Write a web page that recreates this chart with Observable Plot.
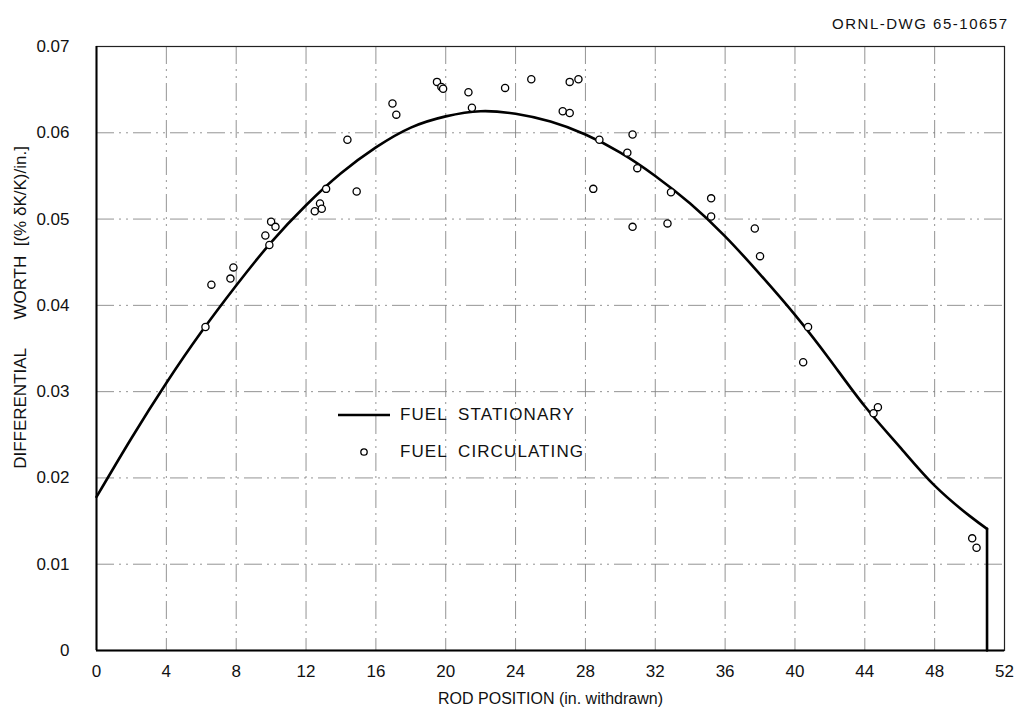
<!DOCTYPE html>
<html><head><meta charset="utf-8">
<script src="https://cdn.jsdelivr.net/npm/d3@7"></script>
<script src="https://cdn.jsdelivr.net/npm/@observablehq/plot@0.6"></script>
<style>
body{margin:0;background:#fff;}
#wrap{position:relative;width:1021px;height:717px;font-family:"Liberation Sans Narrow","Liberation Sans",sans-serif;}
#legend{position:absolute;left:336px;top:396px;font-size:17px;letter-spacing:1.1px;word-spacing:5px;color:#111;}
#legend .row{display:flex;align-items:center;height:37px;}
#legend svg{width:58px;height:20px;margin-right:6px;}
</style></head><body><div id="wrap"></div>
<script>
// Fuel stationary curve (rod position in., differential worth)
const curveX = [0, 2, 4, 6, 8, 10, 12, 14, 16, 18, 20, 22, 24, 26, 28, 30, 32, 34, 36, 38, 40, 42, 44, 46, 48, 50, 51];
const curveY = [0.0178, 0.0246, 0.0310, 0.0369, 0.0423, 0.0473, 0.0516, 0.0553, 0.0583, 0.0606, 0.0619, 0.0625, 0.0622, 0.0613, 0.0598, 0.0577, 0.0550, 0.0518, 0.0480, 0.0436, 0.0389, 0.0337, 0.0283, 0.0236, 0.0191, 0.0156, 0.0141];
// vertical drop at the end of the rod travel
const dropX = [51, 51];
const dropY = [0.0141, 0];
// Fuel circulating measurements
const circX = [6.24, 6.58, 7.67, 7.84, 9.67, 9.9, 10.0, 10.25, 12.5, 12.8, 12.9, 13.15, 14.37, 14.9, 16.95, 17.17, 19.5, 19.75, 19.85, 21.3, 21.5, 23.4, 24.9, 26.7, 27.1, 27.1, 27.6, 28.45, 28.8, 30.4, 30.7, 30.7, 30.97, 32.7, 32.9, 35.2, 35.2, 37.7, 38.0, 40.47, 40.75, 44.5, 44.75, 50.15, 50.4];
const circY = [0.0375, 0.0424, 0.0431, 0.0444, 0.0481, 0.0470, 0.0497, 0.0491, 0.0509, 0.0518, 0.0512, 0.0535, 0.0592, 0.0532, 0.0634, 0.0621, 0.0659, 0.0653, 0.0651, 0.0647, 0.0629, 0.0652, 0.0662, 0.0625, 0.0659, 0.0623, 0.0662, 0.0535, 0.0592, 0.0577, 0.0598, 0.0491, 0.0559, 0.0495, 0.0531, 0.0524, 0.0503, 0.0489, 0.0457, 0.0334, 0.0375, 0.0275, 0.0282, 0.0130, 0.0119];
const xTicks = [0, 4, 8, 12, 16, 20, 24, 28, 32, 36, 40, 44, 48, 52];
const yTicks = [0, 0.01, 0.02, 0.03, 0.04, 0.05, 0.06, 0.07];
const xLabel = "ROD POSITION (in. withdrawn)";
const yLabel = "DIFFERENTIAL\u00A0\u00A0\u00A0\u00A0\u00A0\u00A0WORTH\u00A0\u00A0[(% δK/K)/in.]";
const drawingNo = "ORNL-DWG 65-10657";
const seriesNames = ["FUEL STATIONARY", "FUEL CIRCULATING"];

const curve = curveX.map((x, i) => ({x, y: curveY[i]}));
const drop = dropX.map((x, i) => ({x, y: dropY[i]}));
const circ = circX.map((x, i) => ({x, y: circY[i]}));
const font = '"Liberation Sans Narrow","Liberation Sans",sans-serif';
const gridStyle = {stroke: "#808080", strokeOpacity: 0.85, strokeWidth: 1, strokeDasharray: "18,5,2,5,2,5"};

const chart = Plot.plot({
  width: 1021, height: 717,
  marginLeft: 96, marginRight: 17, marginTop: 46, marginBottom: 67,
  style: {fontFamily: font, background: "#fff", color: "#111"},
  x: {domain: [0, 52]},
  y: {domain: [0, 0.07]},
  marks: [
    Plot.gridX(xTicks.filter(d => d > 0 && d < 52), gridStyle),
    Plot.gridY(yTicks.filter(d => d > 0 && d < 0.07), gridStyle),
    Plot.frame({stroke: "#222", strokeWidth: 1.2}),
    Plot.ruleX([0], {stroke: "#000", strokeWidth: 2}),
    Plot.ruleY([0], {stroke: "#000", strokeWidth: 2}),
    Plot.axisX(xTicks, {tickSize: 0, tickPadding: 14, fontSize: 17, label: null, tickFormat: d => String(d)}),
    Plot.axisY(yTicks, {tickSize: 0, tickPadding: 27, fontSize: 17, label: null, tickFormat: d => d === 0 ? "0" : d.toFixed(2)}),
    Plot.line(curve, {x: "x", y: "y", curve: "natural", stroke: "#000", strokeWidth: 2.6}),
    Plot.line(drop, {x: "x", y: "y", stroke: "#000", strokeWidth: 2.6}),
    Plot.dot(circ, {x: "x", y: "y", r: 3.6, stroke: "#000", fill: "#fff", strokeWidth: 1.3}),
    Plot.text([xLabel], {frameAnchor: "bottom", dy: 53, fontSize: 16, fill: "#111"}),
    Plot.text([yLabel], {frameAnchor: "left", dx: -76, dy: -41, rotate: -90, textAnchor: "middle", fontSize: 17, fill: "#111"}),
    Plot.text([drawingNo], {frameAnchor: "top-right", dx: 4, dy: -28, textAnchor: "end", fontSize: 15, fill: "#111"})
  ]
});
d3.select(chart).selectAll("text").filter(function () { return this.textContent === drawingNo; }).attr("letter-spacing", 1.5);
const wrap = document.getElementById("wrap");
wrap.appendChild(chart);

const legend = document.createElement("div");
legend.id = "legend";
legend.innerHTML =
  `<div class="row"><svg viewBox="0 0 58 20"><line x1="2" x2="54" y1="10" y2="10" stroke="#000" stroke-width="2.6"/></svg><span>${seriesNames[0]}</span></div>` +
  `<div class="row"><svg viewBox="0 0 58 20"><circle cx="28" cy="10" r="3.2" fill="#fff" stroke="#000" stroke-width="1.3"/></svg><span>${seriesNames[1]}</span></div>`;
wrap.appendChild(legend);
</script>
</body></html>
